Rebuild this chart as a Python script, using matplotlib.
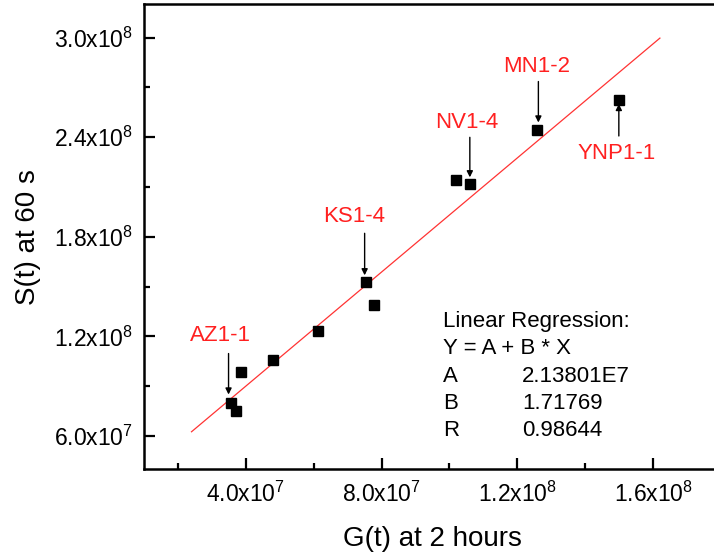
import matplotlib
matplotlib.use("Agg")
import matplotlib.pyplot as plt
import numpy as np

plt.rcParams['font.family'] = ['Liberation Sans', 'DejaVu Sans']
plt.rcParams['mathtext.fontset'] = 'custom'
plt.rcParams['mathtext.rm'] = 'Liberation Sans'
plt.rcParams['mathtext.it'] = 'Liberation Sans'

# data
g_values = [3.55e7, 3.71e7, 3.87e7, 4.80e7, 6.13e7, 7.53e7, 7.77e7, 1.019e8, 1.06e8, 1.259e8, 1.499e8]
s_values = [8.02e7, 7.50e7, 9.86e7, 1.058e8, 1.23e8, 1.526e8, 1.39e8, 2.144e8, 2.116e8, 2.446e8, 2.624e8]

reg_A = 2.13801e7
reg_B = 1.71769
reg_R = 0.98644
fit_x_range = [2.4e7, 1.62e8]

labels = ['AZ1-1', 'KS1-4', 'NV1-4', 'MN1-2', 'YNP1-1']
label_idx = [0, 5, 8, 9, 10]

x_major = [4e7, 8e7, 1.2e8, 1.6e8]
x_major_labels = ['4.0x10$^{7}$', '8.0x10$^{7}$', '1.2x10$^{8}$', '1.6x10$^{8}$']
x_minor = [2e7, 6e7, 1e8, 1.4e8]
y_major = [6e7, 1.2e8, 1.8e8, 2.4e8, 3.0e8]
y_major_labels = ['6.0x10$^{7}$', '1.2x10$^{8}$', '1.8x10$^{8}$', '2.4x10$^{8}$', '3.0x10$^{8}$']
y_minor = [9e7, 1.5e8, 2.1e8, 2.7e8]

W, H = 714, 558
fig = plt.figure(figsize=(W / 100, H / 100), dpi=100)
L, R_, B_, T = 144, 721, 469.3, 4.3
ax = fig.add_axes([L / W, (H - B_) / H, (R_ - L) / W, (B_ - T) / H])

ax.set_xlim(1e7, 1.8e8)
ax.set_ylim(4e7, 3.2e8)

# fit line
fx = np.array(fit_x_range)
ax.plot(fx, reg_A + reg_B * fx, color='#ff3333', lw=0.9, zorder=2)

ax.plot(g_values, s_values, linestyle='none', marker='s', color='black',
        markersize=7, zorder=3)

# annotations (offsets in pixels relative to the marked point)
text_off = [(-10, 67), (-12, 66), (-3, 62), (-1, 63), (-2, -54)]
arrow_tail = [(-2, 49), (-1, 49), (0, 47), (1, 48), (0, -36)]
arrow_head = [(-2, 8), (-1, 7), (0, 7), (1, 7), (0, -4)]
for lab, i, to, at, ah in zip(labels, label_idx, text_off, arrow_tail, arrow_head):
    px, py = g_values[i], s_values[i]
    ax.annotate(lab, xy=(px, py), xytext=to, textcoords='offset pixels',
                ha='center', va='center', color='#ff2020', fontsize=16)
    disp = ax.transData.transform((px, py))
    head = ax.transData.inverted().transform((disp[0] + ah[0], disp[1] + ah[1]))
    ax.annotate('', xy=head, xycoords='data',
                xytext=(at[0] - ah[0], at[1] - ah[1]), textcoords='offset pixels',
                arrowprops=dict(arrowstyle='-|>', color='black', lw=1.0,
                                mutation_scale=9, shrinkA=0, shrinkB=0))

ax.set_xticks(x_major)
ax.set_xticklabels(x_major_labels)
ax.set_xticks(x_minor, minor=True)
ax.set_yticks(y_major)
ax.set_yticklabels(y_major_labels)
ax.set_yticks(y_minor, minor=True)

ax.tick_params(which='major', direction='in', length=8, width=1.6, labelsize=16.5, pad=8,
               colors='black', top=False, right=False)
ax.tick_params(which='minor', direction='in', length=4.5, width=1.6, top=False, right=False)
ax.tick_params(axis='x', which='major', pad=9)
for sp in ax.spines.values():
    sp.set_linewidth(1.8)

ax.set_xlabel('G(t) at 2 hours', fontsize=20, labelpad=14)
ax.set_ylabel('S(t) at 60 s', fontsize=20, labelpad=9)

# regression box
rows = [('Linear Regression:', ''), ('Y = A + B * X', ''),
        ('A', '2.13801E7'), ('B', f'{reg_B:.5f}'), ('R', f'{reg_R:.5f}')]
y0 = (B_ - 321.7) / (B_ - T)
dy = 27.3 / (B_ - T)
x0 = (443 - L) / (R_ - L)
x1 = (522 - L) / (R_ - L)
for k, (a, b) in enumerate(rows):
    ax.text(x0, y0 - k * dy, a, transform=ax.transAxes, fontsize=16, va='center', ha='left')
    if b:
        ax.text(x1, y0 - k * dy, b, transform=ax.transAxes, fontsize=16, va='center', ha='left')

fig.savefig('out.png', dpi=100)
